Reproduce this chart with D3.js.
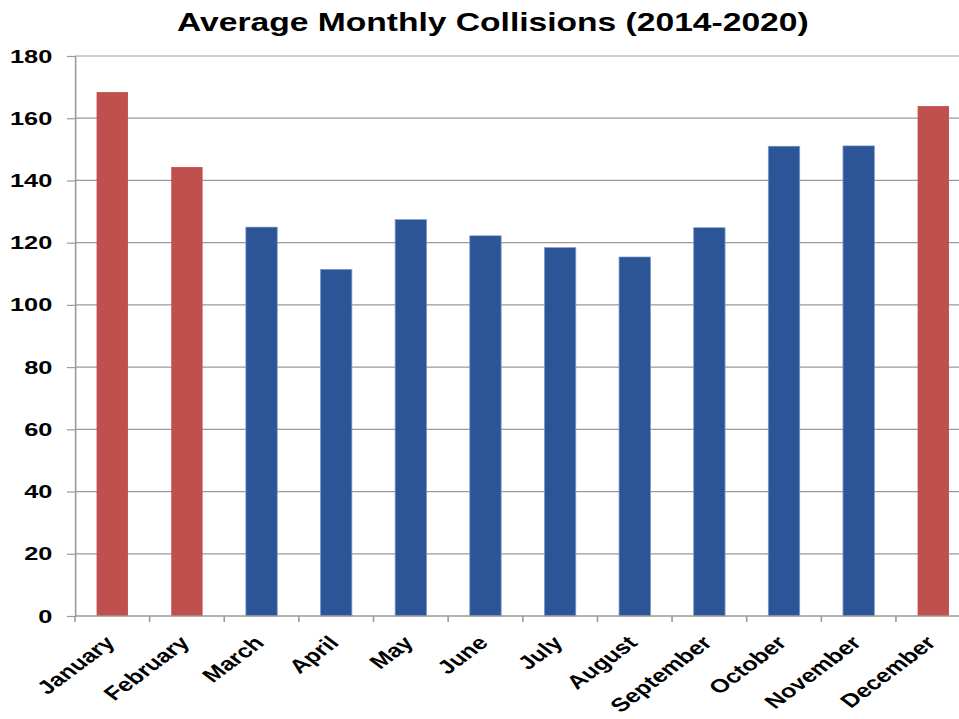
<!DOCTYPE html>
<html>
<head>
<meta charset="utf-8">
<script src="https://cdn.jsdelivr.net/npm/d3@7"></script>
<style>
  html, body { margin: 0; padding: 0; background: #fff; }
  svg { display: block; }
  text { font-family: "Liberation Sans", Arial, sans-serif; font-weight: bold; fill: #000; }
</style>
</head>
<body>
<script>
// Average collisions per month, 2014-2020
const months = ["January", "February", "March", "April", "May", "June",
                "July", "August", "September", "October", "November", "December"];
const collisions = [168.4, 144.3, 125.0, 111.4, 127.4, 122.2,
                    118.4, 115.4, 124.8, 151.0, 151.1, 163.9];
const winterMonths = ["January", "February", "December"];
const yTicks = [0, 20, 40, 60, 80, 100, 120, 140, 160, 180];
const title = "Average Monthly Collisions (2014-2020)";

// The chart is laid out on a square 719-unit canvas and stretched to the page width.
const W = 959, H = 719, VW = 719;
const svg = d3.select("body").append("svg")
  .attr("width", W).attr("height", H)
  .attr("viewBox", `0 0 ${VW} ${H}`)
  .attr("preserveAspectRatio", "none");

const plot = { left: 56.2, right: 727.7, top: 56, bottom: 616 };

const x = d3.scaleBand().domain(months)
  .range([plot.left, plot.right]).paddingInner(0.58).paddingOuter(0.29);
const xCat = d3.scaleBand().domain(months).range([plot.left, plot.right]);
const y = d3.scaleLinear().domain([0, 180]).range([plot.bottom, plot.top]);

// Title
svg.append("text")
  .attr("x", 369.5).attr("y", 31)
  .attr("text-anchor", "middle")
  .style("font-size", "25.2px")
  .text(title);

// Horizontal gridlines
svg.append("g").selectAll("line").data(yTicks.filter(d => d > 0)).join("line")
  .attr("x1", plot.left).attr("x2", plot.right)
  .attr("y1", d => y(d)).attr("y2", d => y(d))
  .attr("stroke", d => d === 180 ? "#bdbdbd" : "#9a9a9a")
  .attr("stroke-width", 1.3);

// Y axis
const yAxis = svg.append("g")
  .attr("transform", `translate(${plot.left},0)`)
  .call(d3.axisLeft(y).tickValues(yTicks).tickSize(6).tickPadding(11).tickFormat(d3.format("d")));
yAxis.select(".domain").attr("stroke", "#9a9a9a").attr("stroke-width", 1.2);
yAxis.selectAll(".tick line").attr("stroke", "#9a9a9a").attr("stroke-width", 1.2);
yAxis.selectAll(".tick text")
  .style("font-size", "19px").style("font-family", "'Liberation Sans', Arial, sans-serif")
  .style("font-weight", "bold").attr("fill", "#000");

// Bars
svg.append("g").selectAll("rect").data(months).join("rect")
  .attr("x", d => x(d))
  .attr("width", x.bandwidth())
  .attr("y", (d, i) => y(collisions[i]))
  .attr("height", (d, i) => y(0) - y(collisions[i]))
  .attr("fill", d => winterMonths.includes(d) ? "#C0504D" : "#2C5597")
  .attr("stroke", d => winterMonths.includes(d) ? "none" : "#7C98C8")
  .attr("stroke-width", 0.6);

// X axis line and category boundary ticks
const xAxisG = svg.append("g");
xAxisG.append("line")
  .attr("x1", plot.left).attr("x2", plot.right)
  .attr("y1", plot.bottom).attr("y2", plot.bottom)
  .attr("stroke", "#9a9a9a").attr("stroke-width", 1.3);
const boundaries = months.map(m => xCat(m)).concat([plot.right]);
xAxisG.selectAll("line.tick").data(boundaries).join("line")
  .attr("class", "tick")
  .attr("x1", d => d).attr("x2", d => d)
  .attr("y1", plot.bottom).attr("y2", plot.bottom + 6)
  .attr("stroke", "#9a9a9a").attr("stroke-width", 1.2);

// Rotated month labels
xAxisG.selectAll("text").data(months).join("text")
  .attr("text-anchor", "end")
  .style("font-size", "19px")
  .attr("transform", d => `translate(${xCat(d) + xCat.bandwidth() / 2 + 3},${plot.bottom + 28}) rotate(-45)`)
  .text(d => d);
</script>
</body>
</html>
